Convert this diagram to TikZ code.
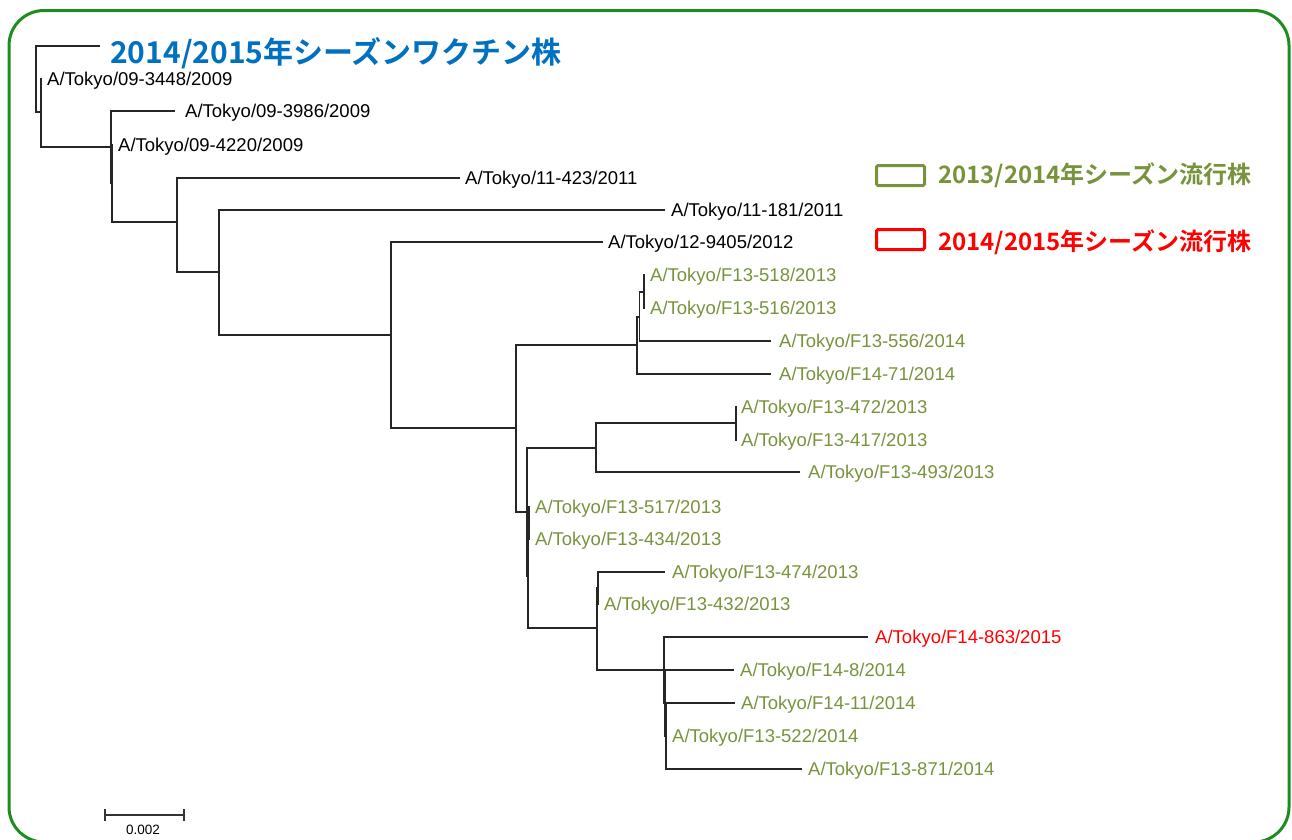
\documentclass[tikz,border=0pt]{standalone}
\usepackage{fontspec}
\setmainfont{Liberation Sans}
\newfontfamily\cjk[BoldFont={Noto Sans CJK JP Bold}]{Noto Sans CJK JP}
\definecolor{framegreen}{RGB}{30,140,30}
\definecolor{strainolive}{RGB}{119,147,60}
\definecolor{vacblue}{RGB}{0,112,192}
\begin{document}
\begin{tikzpicture}[x=1pt,y=-1pt,
	branch/.style={line width=1.2pt,black!85},
	strain/.style={anchor=base west,inner sep=0pt,font=\fontsize{18.5}{20}\selectfont},
	legendbox/.style={line width=3pt,rounded corners=1.5pt,minimum width=48pt,minimum height=20pt,inner sep=0pt},
	legendtext/.style={anchor=base west,inner sep=0pt,font=\cjk\bfseries\fontsize{24}{26}\selectfont}]
	\useasboundingbox (0,0) rectangle (1292,839);
		% frame
			\begin{scope}
				\clip (0,0) rectangle (1292,839);
				\draw[framegreen,line width=3pt,rounded corners=35pt] (9,10.5) rectangle (1289,842);
			\end{scope}
		% inner nodes of the tree
			\foreach \n/\x/\y in {root/36/79,A/41/112,B/111/147,B2/112/183,C/177/222,D/219/272,
					E/391/335,F/516/428,G/637/345,G2/639.5/317,G3/644/292,H/527/512,I/596/448,
					J/736/423,X/528/576,L/529/523,K/597/628,K1/598/588,M/664/670,M2/665/703,M3/666/736}{
				\coordinate (\n) at (\x,\y);
				}
		% vaccine strain
			\coordinate (vac) at (100,46);
			\node[anchor=base west,inner sep=0pt,text=vacblue,font=\cjk\bfseries\fontsize{30}{32}\selectfont]
				(vactitle) at (110,63) {2014/2015年シーズンワクチン株};
		% leaves and their names
			\foreach \n/\x/\y/\lx/\c/\t in {
					l3448/42/79/47/black/{A/Tokyo/09-3448/2009},
					l3986/175/111/185/black/{A/Tokyo/09-3986/2009},
					l4220/113/145/118/black/{A/Tokyo/09-4220/2009},
					l423/460/178/465/black/{A/Tokyo/11-423/2011},
					l181/665/210/671/black/{A/Tokyo/11-181/2011},
					l9405/603/242/608/black/{A/Tokyo/12-9405/2012},
					l518/645/275/650/strainolive/{A/Tokyo/F13-518/2013},
					l516/645/308/650/strainolive/{A/Tokyo/F13-516/2013},
					l556/771/341/779/strainolive/{A/Tokyo/F13-556/2014},
					l71/771/374/779/strainolive/{A/Tokyo/F14-71/2014},
					l472/737/407/741/strainolive/{A/Tokyo/F13-472/2013},
					l417/737/440/741/strainolive/{A/Tokyo/F13-417/2013},
					l493/800/472/808/strainolive/{A/Tokyo/F13-493/2013},
					l517/530/507/535/strainolive/{A/Tokyo/F13-517/2013},
					l434/530/539/535/strainolive/{A/Tokyo/F13-434/2013},
					l474/665/572/672/strainolive/{A/Tokyo/F13-474/2013},
					l432/599/604/604/strainolive/{A/Tokyo/F13-432/2013},
					l863/868/637/875/red/{A/Tokyo/F14-863/2015},
					l8/734/670/740/strainolive/{A/Tokyo/F14-8/2014},
					l11/735/703/741/strainolive/{A/Tokyo/F14-11/2014},
					l522/667/736/672/strainolive/{A/Tokyo/F13-522/2014},
					l871/802/769/808/strainolive/{A/Tokyo/F13-871/2014}}{
				\coordinate (\n) at (\x,\y);
				\node[strain,text=\c] (t\n) at (\lx,{\y+6.6}) {\t};
				}
		% branches
			\foreach \p/\c in {root/vac,root/A,A/l3448,A/B,B/l3986,B/B2,B2/l4220,B2/C,C/l423,C/D,
					D/l181,D/E,E/l9405,E/F,F/G,F/H,G/G2,G/l71,G2/G3,G2/l556,G3/l518,G3/l516,
					H/I,H/X,I/J,I/l493,J/l472,J/l417,X/L,X/K,L/l517,L/l434,K/K1,K/M,K1/l474,K1/l432,
					M/l863,M/M2,M2/l8,M2/M3,M3/l11,M3/l522,M3/l871}{
				\draw[branch] (\p) |- (\c);
				}
		% legend
			\node[legendbox,draw=strainolive] (box13) at (900.5,175.5) {};
			\node[legendtext,text=strainolive] (key13) at (938,183) {2013/2014年シーズン流行株};
			\node[legendbox,draw=red] (box15) at (900.5,239.5) {};
			\node[legendtext,text=red] (key15) at (938,250) {2014/2015年シーズン流行株};
		% scale bar
			\coordinate (sb0) at (105,815);
			\coordinate (sb1) at (184,815);
			\draw[line width=1.3pt,black!80] (sb0) -- (sb1) (sb0) ++(0,-6) -- ++(0,12) (sb1) ++(0,-6) -- ++(0,12);
			\node[inner sep=0pt,font=\fontsize{13.5}{15}\selectfont] (sbtext) at (143,830) {0.002};
	\end{tikzpicture}
\end{document}
